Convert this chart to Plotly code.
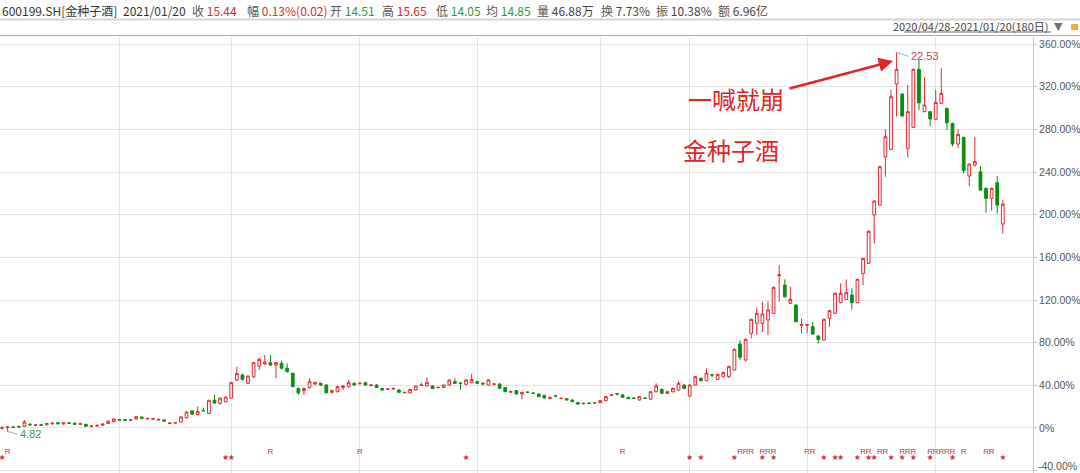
import plotly.graph_objects as go

# ---------------- data (percent change vs. base close, 180 trading days) ----------------
open_pct = [
    -0.3, 0.5, 1.0, 1.5, 1.6, 3.5, 2.5, 3.0, 3.0, 4.0,
    5.0, 3.8, 4.8, 4.5, 3.6, 3.4, 1.5, 1.8, 2.6, 4.2,
    5.9, 8.0, 7.8, 7.2, 8.4, 10.3, 8.6, 8.5, 7.6, 7.6,
    4.2, 4.6, 5.6, 9.7, 16.0, 12.6, 16.5, 13.7, 26.0, 23.0,
    24.6, 28.0, 45.0, 49.7, 41.9, 48.0, 58.0, 60.0, 61.25, 59.0,
    60.6, 56.0, 51.25, 37.0, 35.0, 38.0, 41.25, 41.9, 40.3, 33.4,
    34.0, 38.1, 38.75, 41.9, 41.5, 42.5, 40.0, 40.3, 37.0, 36.3,
    36.6, 35.6, 33.1, 33.0, 35.6, 40.0, 39.4, 39.4, 37.8, 38.1,
    40.3, 43.4, 42.2, 40.9, 42.5, 43.4, 42.0, 40.3, 41.0, 41.25,
    38.0, 33.7, 35.0, 31.9, 33.7, 32.8, 31.9, 30.6, 27.5, 30.3,
    27.5, 27.5, 26.25, 23.75, 22.8, 23.4, 23.4, 23.75, 25.6, 30.6,
    32.2, 31.0, 28.75, 28.1, 26.25, 28.1, 26.9, 34.0, 36.25, 32.5,
    34.0, 35.6, 40.3, 30.0, 40.3, 46.6, 44.4, 50.0, 45.6, 48.1,
    48.1, 54.4, 78.8, 63.8, 88.8, 98.1, 98.1, 101.3, 107.5, 142.8,
    134.0, 116.9, 115.3, 96.3, 96.3, 95.0, 86.3, 82.5, 102.8, 107.5,
    117.5, 120.6, 124.7, 117.5, 145.0, 154.4, 199.7, 209.0, 254.4, 261.25,
    322.5, 313.1, 262.2, 281.9, 336.25, 296.6, 296.6, 289.4, 304.4, 299.7,
    285.6, 266.25, 272.5, 236.25, 246.6, 240.3, 224.7, 215.3, 230.0, 191.25,
]
high_pct = [
    1.5, 1.5, 1.3, 2.0, 7.5, 4.5, 3.8, 3.8, 4.6, 5.5,
    5.5, 5.2, 5.0, 5.0, 5.0, 3.6, 2.2, 3.5, 4.5, 7.0,
    9.0, 8.4, 8.2, 8.5, 11.5, 10.8, 9.8, 9.5, 8.8, 8.0,
    5.2, 5.0, 11.0, 15.5, 16.5, 20.0, 19.0, 26.5, 31.0, 28.5,
    29.5, 43.0, 57.5, 51.0, 49.0, 62.0, 66.0, 68.4, 68.4, 62.0,
    63.0, 60.6, 52.0, 38.0, 38.0, 46.6, 43.5, 42.5, 41.0, 36.0,
    39.5, 40.0, 45.0, 42.8, 42.8, 43.5, 41.5, 41.0, 38.0, 37.5,
    38.0, 36.3, 34.0, 36.5, 39.8, 42.5, 47.5, 40.0, 38.8, 40.6,
    45.6, 46.6, 42.5, 45.6, 51.0, 44.0, 42.8, 45.6, 42.0, 41.9,
    38.4, 35.0, 35.6, 33.8, 34.4, 33.4, 32.2, 31.0, 29.4, 30.9,
    28.4, 27.8, 26.6, 24.0, 23.8, 23.8, 24.4, 26.2, 30.0, 31.6,
    32.5, 31.6, 29.0, 28.4, 29.7, 28.8, 34.4, 41.9, 36.9, 34.7,
    37.8, 44.4, 40.9, 40.9, 48.75, 47.2, 56.0, 50.3, 51.0, 53.0,
    58.5, 74.5, 82.5, 84.0, 102.5, 113.0, 118.4, 119.0, 132.5, 152.8,
    139.4, 132.5, 116.0, 102.8, 97.5, 99.7, 86.9, 102.5, 110.6, 127.0,
    135.6, 139.4, 131.0, 140.0, 159.5, 185.5, 213.5, 246.0, 280.0, 317.0,
    352.2, 313.8, 321.6, 337.0, 345.0, 328.75, 297.2, 317.0, 337.2, 300.3,
    286.3, 280.0, 273.1, 248.1, 273.1, 245.6, 225.3, 225.3, 236.25, 214.1,
]
low_pct = [
    -1.5, -3.25, 0.2, 0.3, 1.0, 2.0, 1.8, 2.0, 2.5, 3.0,
    3.5, 3.2, 4.0, 3.0, 2.8, 1.0, 0.8, 1.2, 2.0, 3.8,
    5.5, 7.0, 7.0, 6.5, 8.0, 8.6, 7.8, 7.5, 6.8, 6.0,
    3.5, 4.0, 5.2, 9.0, 12.5, 12.0, 15.8, 13.0, 22.5, 22.0,
    24.0, 27.5, 44.0, 44.5, 41.0, 47.0, 54.4, 59.0, 58.0, 46.6,
    55.0, 52.0, 38.0, 31.0, 31.0, 37.0, 40.5, 39.5, 32.5, 32.5,
    33.5, 35.6, 38.0, 39.8, 40.6, 39.5, 39.0, 37.5, 35.0, 35.6,
    36.0, 32.8, 32.5, 32.5, 35.0, 39.6, 39.0, 36.5, 37.2, 37.5,
    39.7, 41.5, 35.6, 40.3, 42.0, 41.5, 40.6, 40.0, 40.3, 36.9,
    33.7, 33.0, 31.5, 26.9, 32.8, 31.9, 29.0, 27.8, 27.0, 29.0,
    27.0, 25.9, 24.4, 22.2, 22.2, 22.5, 23.0, 23.4, 25.0, 30.0,
    30.6, 28.4, 27.2, 27.2, 25.9, 27.2, 26.3, 33.4, 32.0, 31.9,
    33.4, 35.0, 36.6, 28.75, 39.7, 43.8, 43.8, 47.5, 45.0, 47.5,
    46.6, 53.8, 63.8, 62.5, 84.0, 87.0, 90.0, 87.0, 107.0, 118.4,
    122.5, 116.3, 99.0, 88.8, 88.8, 87.5, 79.4, 81.9, 95.0, 107.0,
    117.0, 120.0, 111.0, 117.0, 134.0, 153.8, 173.0, 208.5, 235.6, 260.6,
    291.9, 291.9, 253.75, 281.3, 298.0, 296.0, 283.0, 288.8, 303.8, 279.4,
    264.0, 262.5, 238.75, 226.9, 245.0, 222.5, 201.9, 203.75, 201.0, 182.0,
]
close_pct = [
    0.5, 0.9, 0.6, 1.0, 5.6, 3.0, 2.8, 2.6, 4.2, 4.4,
    4.0, 4.8, 4.4, 3.5, 3.9, 1.6, 1.8, 2.4, 3.6, 6.4,
    8.4, 7.5, 7.4, 7.6, 10.6, 9.0, 8.9, 8.8, 8.0, 6.4,
    4.6, 5.0, 10.3, 15.0, 13.0, 15.6, 16.2, 26.0, 23.4, 28.0,
    29.0, 42.5, 51.0, 45.6, 48.75, 61.25, 64.4, 61.9, 59.0, 61.25,
    56.0, 52.8, 38.75, 33.0, 37.0, 43.4, 42.5, 40.3, 33.0, 35.0,
    38.75, 39.4, 42.5, 40.3, 41.9, 40.3, 40.3, 38.0, 35.6, 36.6,
    37.0, 33.4, 33.4, 36.25, 39.4, 40.3, 42.5, 36.9, 38.1, 40.3,
    45.0, 41.9, 41.9, 45.0, 45.6, 41.9, 41.25, 45.0, 41.25, 37.2,
    34.0, 34.0, 31.9, 33.4, 33.4, 32.5, 29.4, 28.1, 28.75, 30.0,
    27.8, 26.25, 24.7, 22.5, 23.1, 23.1, 23.75, 25.6, 29.4, 31.0,
    31.9, 28.75, 27.5, 27.8, 29.4, 27.8, 34.0, 39.4, 32.5, 34.0,
    37.2, 41.9, 37.2, 40.3, 48.1, 44.4, 51.5, 49.7, 50.3, 51.9,
    57.5, 73.8, 66.3, 83.1, 101.9, 107.5, 106.9, 110.6, 131.9, 143.5,
    123.1, 120.6, 99.7, 96.9, 96.9, 88.1, 83.1, 101.9, 110.0, 126.3,
    126.3, 126.9, 117.5, 139.4, 159.0, 184.4, 212.8, 245.0, 273.1, 310.6,
    336.25, 292.5, 296.6, 336.25, 305.0, 302.8, 289.7, 305.3, 313.75, 286.25,
    266.25, 275.3, 241.25, 247.5, 249.7, 223.1, 215.3, 224.7, 209.0, 209.9,
]
day_index = list(range(len(close_pct)))

# month boundaries (first trading day of Jun .. Jan)
month_start_idx = [21, 41, 64, 85, 107, 123, 144, 167]

# signal markers under the candles
r_marks = [1, 48, 64, 111, 132, 133, 134, 136, 137, 138, 144, 145, 154, 155,
           157, 158, 161, 162, 163, 166, 167, 168, 169, 170, 172, 176, 177]
star_marks = [0, 40, 41, 83, 123, 125, 131, 136, 138, 147, 149, 150, 153, 155,
              156, 159, 161, 163, 166, 170, 179]

y_ticks = [-40, 0, 40, 80, 120, 160, 200, 240, 280, 320, 360]
y_ticktext = ["", "0%", "40.00%", "80.00%", "120.00%", "160.00%",
              "200.00%", "240.00%", "280.00%", "320.00%", "360.00%"]
bottom_tick_label = "-40.00%"

max_price_label = "22.53"
min_price_label = "4.82"

header_items = [
    ("收", "15.44", "#e0262e"),
    ("幅", "0.13%(0.02)", "#e0262e"),
    ("开", "14.51", "#2f9a2f"),
    ("高", "15.65", "#e0262e"),
    ("低", "14.05", "#2f9a2f"),
    ("均", "14.85", "#2f9a2f"),
    ("量", "46.88万", "#444444"),
    ("换", "7.73%", "#444444"),
    ("振", "10.38%", "#444444"),
    ("额", "6.96亿", "#444444"),
]
header_x = [190, 245, 328, 380, 434, 484, 535, 599, 654, 716]

# ---------------- layout geometry ----------------
W, H = 1080, 473
PL, PR, PT, PB = 0, 1033, 37, 473  # plot area in pixels


def px(x):
    return (x - PL) / (PR - PL)


def py(y):
    return (PB - y) / (PB - PT)


RED = "#e5262f"
GREEN = "#0e8c12"
GRID = "#e4e4e4"
CJK = "Noto Sans CJK SC"

fig = go.Figure()

fig.add_trace(go.Candlestick(
    x=day_index, open=open_pct, high=high_pct, low=low_pct, close=close_pct,
    increasing=dict(line=dict(color=RED, width=1), fillcolor="white"),
    decreasing=dict(line=dict(color=GREEN, width=1), fillcolor=GREEN),
    whiskerwidth=0, hoverinfo="skip", showlegend=False,
))

fig.add_trace(go.Scatter(
    x=r_marks, y=[-22.5] * len(r_marks), mode="text", text=["R"] * len(r_marks),
    textfont=dict(size=8, color="#d0303c", family="Arial"), hoverinfo="skip", showlegend=False,
))
fig.add_trace(go.Scatter(
    x=star_marks, y=[-28.3] * len(star_marks), mode="text", text=["★"] * len(star_marks),
    textfont=dict(size=8, color="#d0303c", family="DejaVu Sans"), hoverinfo="skip", showlegend=False,
))

annotations = []

# header row
annotations.append(dict(xref="paper", yref="paper", x=px(0), y=py(10), xanchor="left", yanchor="middle",
                        text="600199.SH[金种子酒]", showarrow=False,
                        font=dict(family=CJK, size=12, color="#333333")))
annotations.append(dict(xref="paper", yref="paper", x=px(121), y=py(10), xanchor="left", yanchor="middle",
                        text="2021/01/20", showarrow=False,
                        font=dict(family=CJK, size=12, color="#333333")))
for (lab, val, col), hx in zip(header_items, header_x):
    annotations.append(dict(
        xref="paper", yref="paper", x=px(hx), y=py(10), xanchor="left", yanchor="middle",
        text=f"<span style='color:#555555'>{lab}</span> <span style='color:{col}'>{val}</span>",
        showarrow=False, font=dict(family=CJK, size=12, color="#333333")))

# date range row
annotations.append(dict(xref="paper", yref="paper", x=px(1051), y=py(26), xanchor="right", yanchor="middle",
                        text="2020/04/28-2021/01/20(180日)", showarrow=False,
                        font=dict(family=CJK, size=11, color="#444444")))
annotations.append(dict(xref="paper", yref="paper", x=px(1058), y=py(26), xanchor="center", yanchor="middle",
                        text="▼", showarrow=False, font=dict(family="DejaVu Sans", size=11, color="#707070")))

# bottom axis label (kept inside the visible area, as in the original)
annotations.append(dict(xref="paper", yref="paper", x=px(1036), y=py(466), xanchor="left", yanchor="middle",
                        text=bottom_tick_label, showarrow=False,
                        font=dict(family="Arial", size=10.5, color="#555555")))

# price labels for max / min
imax = max(range(len(high_pct)), key=lambda i: high_pct[i])
imin = min(range(len(low_pct)), key=lambda i: low_pct[i])
annotations.append(dict(x=imax, y=high_pct[imax], xref="x", yref="y", text=max_price_label,
                        showarrow=True, arrowhead=0, arrowwidth=1, arrowcolor="#88b8c8",
                        ax=12, ay=4, xanchor="left", yanchor="middle",
                        font=dict(family="Arial", size=11, color="#d04050")))
annotations.append(dict(x=imin, y=low_pct[imin], xref="x", yref="y", text=min_price_label,
                        showarrow=True, arrowhead=0, arrowwidth=1, arrowcolor="#88b8c8",
                        ax=10, ay=3, xanchor="left", yanchor="middle",
                        font=dict(family="Arial", size=11, color="#3a9a3a")))

# commentary text and arrow
annotations.append(dict(xref="paper", yref="paper", x=px(736), y=py(98), text="一喊就崩",
                        xanchor="center", yanchor="middle",
                        showarrow=False, font=dict(family=CJK, size=24, color="#e32424")))
annotations.append(dict(xref="paper", yref="paper", x=px(731), y=py(149), text="金种子酒",
                        xanchor="center", yanchor="middle",
                        showarrow=False, font=dict(family=CJK, size=24, color="#e32424")))
annotations.append(dict(xref="paper", yref="paper", x=px(893), y=py(61), ax=788 - 893, ay=89 - 61,
                        axref="pixel", ayref="pixel", text="", showarrow=True,
                        arrowhead=2, arrowsize=1.1, arrowwidth=2.6, arrowcolor="#e32424"))

shapes = [
    dict(type="line", xref="paper", yref="paper", x0=0, x1=px(W), y0=py(19.5), y1=py(19.5),
         line=dict(color="#d4d4d4", width=2)),
    dict(type="line", xref="paper", yref="paper", x0=0, x1=px(W), y0=py(35.5), y1=py(35.5),
         line=dict(color="#a9a9a9", width=1)),
    dict(type="line", xref="paper", yref="paper", x0=px(904), x1=px(1051), y0=py(32), y1=py(32),
         line=dict(color="#666666", width=1)),
    dict(type="rect", xref="paper", yref="paper", x0=px(1071), x1=px(1078), y0=py(30), y1=py(24),
         line=dict(width=0), fillcolor="#f1b030"),
]

fig.update_layout(
    width=W, height=H,
    margin=dict(l=PL, r=W - PR, t=PT, b=H - PB, autoexpand=False),
    paper_bgcolor="white", plot_bgcolor="white",
    showlegend=False,
    annotations=annotations,
    shapes=shapes,
    xaxis=dict(range=[-0.36, 184.4], tickvals=month_start_idx, showticklabels=False,
               showgrid=True, gridcolor=GRID, gridwidth=1, ticks="", zeroline=False,
               rangeslider=dict(visible=False), showline=False, fixedrange=True,
               automargin=False),
    yaxis=dict(range=[-42.2, 366.6], side="right", tickvals=y_ticks, ticktext=y_ticktext,
               showgrid=True, gridcolor=GRID, gridwidth=1, zeroline=False,
               showline=True, linecolor="#c6c6c6", linewidth=1,
               ticks="outside", ticklen=3, tickcolor="#c6c6c6", automargin=False,
               tickfont=dict(family="Arial", size=10.5, color="#555555"), fixedrange=True),
)

fig.write_html("out.html", config={"displayModeBar": False},
               post_script="document.body.style.margin='0px';")
